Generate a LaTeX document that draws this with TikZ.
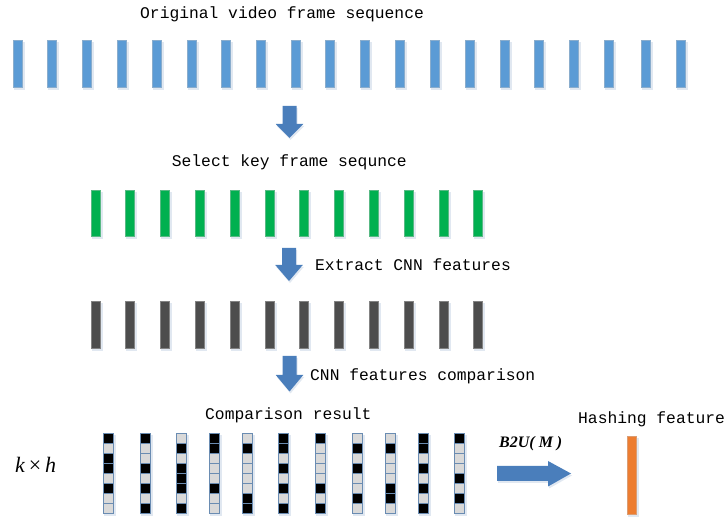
\documentclass[tikz,border=0pt]{standalone}
\usepackage{fontspec}
\setmainfont{Liberation Serif}
\newfontfamily\monofont{Liberation Mono}

\definecolor{frameblue}{HTML}{5B9BD5}
\definecolor{keygreen}{HTML}{00B050}
\definecolor{featgray}{HTML}{4D4D4D}
\definecolor{hashorange}{HTML}{ED7D31}
\definecolor{arrowblue}{HTML}{4A7EBB}
\definecolor{barline}{HTML}{C4C4C4}
\definecolor{cellline}{HTML}{6A8CB2}
\definecolor{cell0}{HTML}{D9D9D9}
\definecolor{cell1}{HTML}{000000}
\definecolor{shadowtint}{HTML}{E1E8F1}

\tikzset{
  caption/.style={font=\monofont\fontsize{16.3}{18}\selectfont, inner sep=0pt,
      anchor=base west, text=black},
  cell/.style={draw=cellline, line width=1pt},
  blockarrow/.style={fill=arrowblue},
  shadowbox/.style={fill=shadowtint},
}

% one frame bar with its soft shadow and thin rim: left x, top y, height, fill colour
\newcommand\framebar[4]{%
  \path[shadowbox] (#1+1,#2+2) rectangle ++(11,#3);
  \path[fill=#4] (#1,#2) rectangle ++(10,#3);
  \path[draw=#4!55!barline, line width=1pt] (#1+0.5,#2+0.5) rectangle ++(9,#3-1);}

% vertical block arrow: centre x, top y, y where the head starts, tip y
\newcommand\blockdown[4]{%
  \path[shadowbox] (#1-6,#2+2) -- (#1+8,#2+2) -- (#1+8,#3+2) -- (#1+14.75,#3+2)
    -- (#1+1,#4+2) -- (#1-12.75,#3+2) -- (#1-6,#3+2) -- cycle;
  \path[blockarrow] (#1-7,#2) -- (#1+7,#2) -- (#1+7,#3) -- (#1+13.75,#3)
    -- (#1,#4) -- (#1-13.75,#3) -- (#1-7,#3) -- cycle;}

\begin{document}
\begin{tikzpicture}[x=1pt, y=-1pt]
\useasboundingbox (0,0) rectangle (726,518);

% original frames
\foreach \x in {13,47,82,117,152,187,221,256,291,325,
                360,395,430,465,500,534,569,604,641,676}
  {\framebar{\x}{40}{48}{frameblue}}

% key frames
\foreach \x in {91,125,160,195,230,265,299,334,369,404,439,473}
  {\framebar{\x}{190}{47}{keygreen}}

% CNN features
\foreach \x in {91,125,160,195,230,265,299,334,369,404,439,473}
  {\framebar{\x}{301}{48}{featgray}}

% comparison result columns (1 = black cell, 0 = grey cell)
\foreach \x/\pat in {103/{1,0,1,1,0,1,0,0}, 140/{1,0,0,1,0,1,0,1},
                     176/{0,1,0,1,1,1,0,1}, 209/{1,1,0,0,0,1,0,0},
                     242/{0,1,0,0,0,0,1,1}, 278/{1,1,0,1,0,1,0,1},
                     315/{1,0,0,0,0,1,0,1}, 352/{0,1,0,1,0,0,1,0},
                     385/{0,1,0,0,0,1,1,0}, 418/{1,1,0,1,0,1,0,1},
                     454/{1,0,0,0,1,0,1,0}} {
  \path[shadowbox] (\x+1,435) rectangle ++(12,81);
  \foreach \b [count=\i from 0] in \pat
    {\path[cell, fill=cell\b] (\x+0.5,433.5+10*\i) rectangle ++(10,10);}
}

% hashing feature
\framebar{627}{436}{79}{hashorange}

% block arrows
\blockdown{289.5}{106}{124}{138}
\blockdown{289}{248}{265}{281}
\blockdown{289.5}{356}{375}{391.5}
\path[shadowbox] (498,468) -- (549,468) -- (549,463) -- (572,475.5)
  -- (549,488.5) -- (549,483) -- (498,483) -- cycle;
\path[blockarrow] (497,466) -- (548,466) -- (548,461) -- (571,473.5)
  -- (548,486.5) -- (548,481) -- (497,481) -- cycle;

% captions
\node[caption] (t1) at (140,18.5) {Original video frame sequence};
\node[caption] (t2) at (171.7,166.7) {Select key frame sequnce};
\node[caption] (t3) at (315,271) {Extract CNN features};
\node[caption] (t4) at (310,381) {CNN features comparison};
\node[caption] (t5) at (205,420) {Comparison result};
\node[caption] (t6) at (578,424) {Hashing feature};
\node[anchor=base west, inner sep=0pt,
      font=\bfseries\itshape\fontsize{16}{18}\selectfont] (b2u) at (499,447.5) {B2U( M )};
\node[anchor=base west, inner sep=0pt, font=\fontsize{22}{24}\selectfont]
      (kh) at (15,473) {\textit{k}\,×\,\textit{h}};
\end{tikzpicture}
\end{document}
